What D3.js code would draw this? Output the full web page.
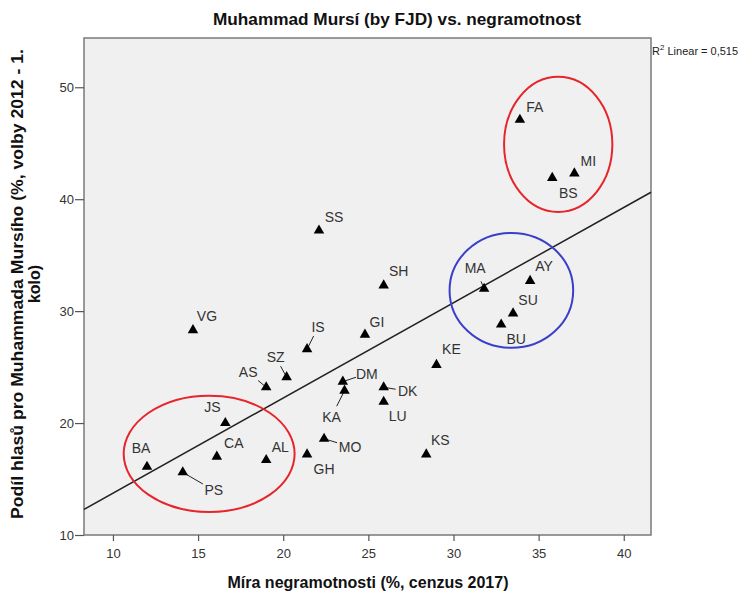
<!DOCTYPE html>
<html>
<head>
<meta charset="utf-8">
<script src="https://cdn.jsdelivr.net/npm/d3@7"></script>
<style>
  body { margin: 0; background: #fff; }
  text { font-family: "Liberation Sans", Arial, sans-serif; }
</style>
</head>
<body>
<svg id="viz"></svg>
<script>
// governorate codes, illiteracy (x) and Mursi vote share (y)
var codes = ['FA','MI','BS','SS','SH','MA','AY','SU','BU','VG','IS','GI','SZ','AS','DM','KA','DK','LU','KE','JS','CA','AL','BA','PS','GH','MO','KS'];
var illiteracy = [33.9,37.1,35.8,22.1,25.9,31.8,34.5,33.5,32.8,14.7,21.4,24.8,20.2,19.0,23.5,23.6,25.9,25.9,29.0,16.6,16.1,19.0,12.0,14.1,21.4,22.4,28.4];
var mursiShare = [47.1,42.3,41.9,37.2,32.3,32.0,32.7,29.8,28.8,28.3,26.6,27.9,24.1,23.2,23.7,22.9,23.2,21.9,25.2,20.0,17.0,16.7,16.1,15.6,17.2,18.6,17.2];

var xTicks = [10, 15, 20, 25, 30, 35, 40];
var yTicks = [10, 20, 30, 40, 50];

// linear fit
var fitIntercept = 5.22;
var fitSlope = 0.851;
var rSquared = '0,515';

// hand-drawn groupings: centre and radii in data units
var groupCx = [36.15, 33.4, 15.65];
var groupCy = [44.9, 31.85, 17.25];
var groupRx = [3.18, 3.63, 5.02];
var groupRy = [6.04, 5.13, 5.19];
var groupColor = ['#e8242b', '#3a3fcb', '#e8242b'];

// label offsets in px (centre of text relative to marker), leader = fraction of the way drawn
var labelPos = {
    FA: [15,-13], MI: [14,-12], BS: [16,15], SS: [15,-14], SH: [15,-14],
    MA: [-9,-21,0.35], AY: [14,-15], SU: [15,-13], BU: [15,14], VG: [14,-14],
    IS: [11,-22,0.6], GI: [12,-13], SZ: [-11,-20,0.55], AS: [-18,-15,0.45],
    DM: [24,-8,0.55], KA: [-13,26,0.6], DK: [24,4,0.5], LU: [14,14], KE: [15,-16],
    JS: [-13,-16], CA: [17,-14], AL: [14,-13], BA: [-6,-19], PS: [31,18,0.65],
    GH: [17,15], MO: [26,8,0.5], KS: [14,-14]
};

var width = 756;
var height = 596;
var plot = { left: 84, right: 651, top: 38, bottom: 535 };

var svg = d3.select('#viz')
            .attr('width', width)
            .attr('height', height);

var xScale = d3.scaleLinear().domain([8.3, 41.6]).range([plot.left, plot.right]);
var yScale = d3.scaleLinear().domain([10, 54.4]).range([plot.bottom, plot.top]);

var points = codes.map(function(c, i){
    return { code: c, x: illiteracy[i], y: mursiShare[i] };
});

// plot background
svg.append('rect')
   .attr('x', plot.left)
   .attr('y', plot.top)
   .attr('width', plot.right - plot.left)
   .attr('height', plot.bottom - plot.top)
   .attr('fill', '#f0f0f0')
   .attr('stroke', '#7a7a7a')
   .attr('stroke-width', 1.5);

// axes
var xAxis = d3.axisBottom(xScale).tickValues(xTicks).tickSize(6).tickSizeOuter(0);
var yAxis = d3.axisLeft(yScale).tickValues(yTicks).tickSize(9).tickSizeOuter(0);

var gx = svg.append('g')
            .attr('transform', `translate(0, ${plot.bottom})`)
            .call(xAxis);
var gy = svg.append('g')
            .attr('transform', `translate(${plot.left}, 0)`)
            .call(yAxis);

[gx, gy].forEach(function(g){
    g.select('.domain').remove();
    g.selectAll('line').attr('stroke', '#555').attr('stroke-width', 1.2);
    g.selectAll('text')
     .attr('fill', '#333')
     .style('font-size', '13px')
     .style('font-family', '"Liberation Sans", Arial, sans-serif');
});
gx.selectAll('text').attr('dy', '1.1em');
gy.selectAll('text').attr('x', -10);

// fit line
svg.append('line')
   .attr('x1', xScale(8.3))
   .attr('y1', yScale(fitIntercept + fitSlope * 8.3))
   .attr('x2', xScale(41.6))
   .attr('y2', yScale(fitIntercept + fitSlope * 41.6))
   .attr('stroke', '#222')
   .attr('stroke-width', 1.5);

// ellipses
svg.selectAll('ellipse.group')
   .data(groupCx)
   .enter()
   .append('ellipse')
   .attr('class', 'group')
   .attr('cx', (d)=>xScale(d))
   .attr('cy', (d, i)=>yScale(groupCy[i]))
   .attr('rx', (d, i)=>xScale(groupRx[i]) - xScale(0))
   .attr('ry', (d, i)=>yScale(0) - yScale(groupRy[i]))
   .attr('fill', 'none')
   .attr('stroke', (d, i)=>groupColor[i])
   .attr('stroke-width', 2);

// leader lines
svg.selectAll('line.leader')
   .data(points.filter((d)=>labelPos[d.code][2]))
   .enter()
   .append('line')
   .attr('class', 'leader')
   .attr('x1', (d)=>xScale(d.x))
   .attr('y1', (d)=>yScale(d.y))
   .attr('x2', (d)=>xScale(d.x) + labelPos[d.code][0] * labelPos[d.code][2])
   .attr('y2', (d)=>yScale(d.y) + labelPos[d.code][1] * labelPos[d.code][2])
   .attr('stroke', '#222')
   .attr('stroke-width', 1);

// markers
var triangle = d3.symbol().type(d3.symbolTriangle).size(48);
svg.selectAll('path.pt')
   .data(points)
   .enter()
   .append('path')
   .attr('class', 'pt')
   .attr('d', triangle)
   .attr('transform', (d)=>`translate(${xScale(d.x)}, ${yScale(d.y)})`)
   .attr('fill', '#000');

// point labels
svg.selectAll('text.lbl')
   .data(points)
   .enter()
   .append('text')
   .attr('class', 'lbl')
   .attr('x', (d)=>xScale(d.x) + labelPos[d.code][0])
   .attr('y', (d)=>yScale(d.y) + labelPos[d.code][1])
   .attr('text-anchor', 'middle')
   .attr('dominant-baseline', 'central')
   .attr('fill', '#333')
   .style('font-size', '14px')
   .text((d)=>d.code);

// title
svg.append('text')
   .attr('x', 397)
   .attr('y', 25)
   .attr('text-anchor', 'middle')
   .attr('font-weight', 'bold')
   .attr('fill', '#111')
   .attr('textLength', 368)
   .attr('lengthAdjust', 'spacingAndGlyphs')
   .style('font-size', '17px')
   .text('Muhammad Mursí (by FJD) vs. negramotnost');

// R squared note
var r2 = svg.append('text')
            .attr('x', 652)
            .attr('y', 55)
            .attr('fill', '#222')
            .style('font-size', '11px');
r2.append('tspan').text('R');
r2.append('tspan').attr('dy', -5).style('font-size', '8px').text('2');
r2.append('tspan').attr('dy', 5).text(' Linear = ' + rSquared);

// axis titles
svg.append('text')
   .attr('x', 368)
   .attr('y', 588)
   .attr('text-anchor', 'middle')
   .attr('font-weight', 'bold')
   .attr('fill', '#111')
   .style('font-size', '16px')
   .text('Míra negramotnosti (%, cenzus 2017)');

var yTitle = svg.append('text')
                .attr('transform', 'translate(23, 284) rotate(-90)')
                .attr('text-anchor', 'middle')
                .attr('font-weight', 'bold')
                .attr('fill', '#111')
                .style('font-size', '16px');
yTitle.append('tspan').attr('x', 0).attr('y', 0)
      .attr('textLength', 470).attr('lengthAdjust', 'spacingAndGlyphs')
      .text('Podíl hlasů pro Muhammada Mursího (%, volby 2012 - 1.');
yTitle.append('tspan').attr('x', 0).attr('y', 17).text('kolo)');
</script>
</body>
</html>
